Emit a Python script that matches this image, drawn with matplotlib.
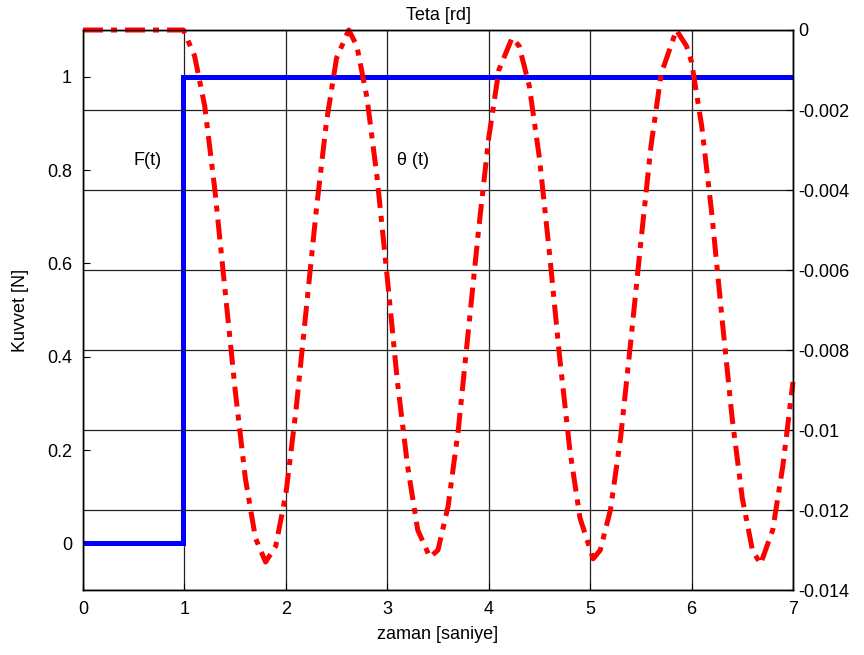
import numpy as np
from matplotlib import pyplot as plt

plt.rcParams['font.family'] = ['Liberation Sans', 'DejaVu Sans']

# F(t) step input
t_force = [0.0, 0.99, 0.99, 7.0]
force = [0.0, 0.0, 1.0, 1.0]

# theta(t)
t_theta = [0.0, 0.5, 0.99, 1.1, 1.2, 1.3, 1.4, 1.5, 1.6, 1.7, 1.8, 1.9,
           2.0, 2.1, 2.2, 2.3, 2.4, 2.5, 2.62, 2.7, 2.8, 2.9,
           3.0, 3.1, 3.2, 3.3, 3.42, 3.5, 3.6, 3.7, 3.8, 3.9,
           4.0, 4.1, 4.23, 4.3, 4.4, 4.5, 4.6, 4.7, 4.8, 4.9,
           5.03, 5.1, 5.2, 5.3, 5.4, 5.5, 5.6, 5.7, 5.85, 5.95,
           6.0, 6.1, 6.2, 6.3, 6.4, 6.5, 6.6, 6.68, 6.8, 6.9, 7.0]
theta = [0.0, 0.0, 0.0, -0.00065, -0.0019, -0.0040, -0.0065, -0.0090, -0.0112, -0.0127, -0.0133, -0.0129,
         -0.0116, -0.0095, -0.0070, -0.0045, -0.0023, -0.0007, 0.0, -0.0004, -0.0017, -0.0037,
         -0.0062, -0.0088, -0.0109, -0.0125, -0.01318, -0.0130, -0.0119, -0.0100, -0.0075, -0.0050,
         -0.0027, -0.0010, -0.0002, -0.0004, -0.0014, -0.0032, -0.0056, -0.0082, -0.0105, -0.0122,
         -0.01322, -0.0130, -0.0120, -0.0102, -0.0078, -0.0053, -0.0029, -0.0011, 0.0, -0.0004,
         -0.0008, -0.0024, -0.0046, -0.0072, -0.0097, -0.0117, -0.0130, -0.01335, -0.0125, -0.0109, -0.0088]

left_ticks = [0, 0.2, 0.4, 0.6, 0.8, 1.0]
left_labels = ['0', '0.2', '0.4', '0.6', '0.8', '1']
right_ticks = [-0.014, -0.012, -0.01, -0.008, -0.006, -0.004, -0.002, 0]
right_labels = ['-0.014', '-0.012', '-0.01', '-0.008', '-0.006', '-0.004', '-0.002', '0']
x_ticks = [0, 1, 2, 3, 4, 5, 6, 7]

fig = plt.figure(figsize=(8.64, 6.55), dpi=100)
ax = fig.add_axes([0.0961, 0.0992, 0.8217, 0.855])

ax.plot(t_force, force, color='#0000ff', linewidth=3.6, solid_joinstyle='miter')
ax.set_xlim(0, 7)
ax.set_ylim(-0.1, 1.1)
ax.set_xticks(x_ticks)
ax.set_yticks(left_ticks)
ax.set_yticklabels(left_labels)
ax.tick_params(direction='in', length=5, labelsize=13, pad=8)
ax.grid(True, axis='x', color='#222222', linewidth=0.9)
ax.set_xlabel('zaman [saniye]', fontsize=13, labelpad=6)
ax.set_ylabel('Kuvvet [N]', fontsize=13, labelpad=13)
ax.text(0.64, 0.82, 'F(t)', fontsize=13, ha='center', va='center')
ax.text(3.25, 0.82, 'θ (t)', fontsize=13, ha='center', va='center')

ax2 = ax.twinx()
ax2.plot(t_theta, theta, color='#ff0000', linewidth=3.6,
         linestyle=(0, (4, 1.6, 1.2, 1.6)), clip_on=False)
ax2.set_ylim(-0.014, 0)
ax2.set_yticks(right_ticks)
ax2.set_yticklabels(right_labels)
ax2.tick_params(direction='in', length=5, labelsize=13, pad=4)
ax2.grid(True, axis='y', color='#222222', linewidth=0.9)
ax2.set_title('Teta [rd]', fontsize=13, pad=7)

for a in (ax, ax2):
    for s in a.spines.values():
        s.set_linewidth(1.0)

fig.savefig('out.png', dpi=100)
